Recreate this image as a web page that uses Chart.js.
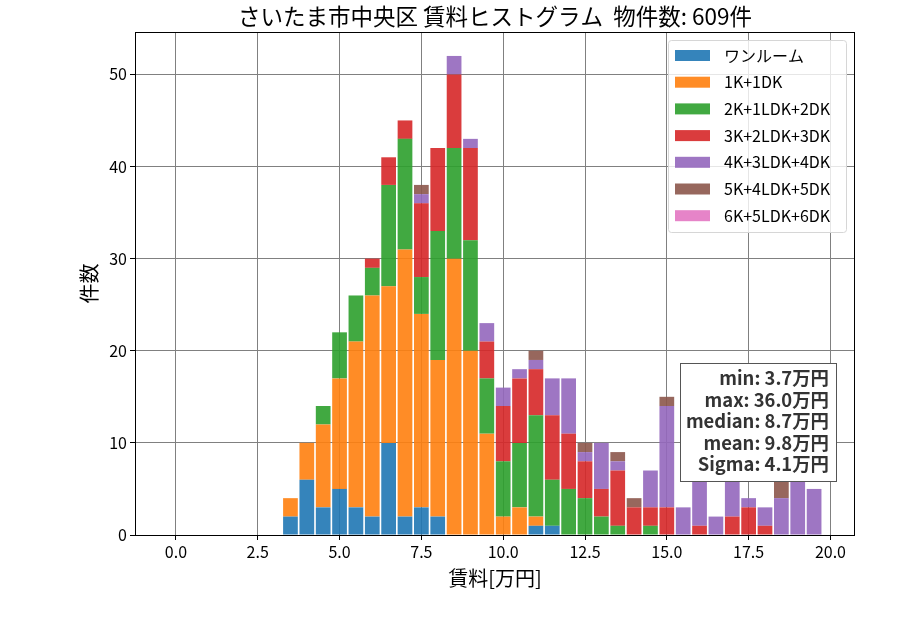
<!DOCTYPE html>
<html>
<head>
<meta charset="utf-8">
<script src="https://cdn.jsdelivr.net/npm/chart.js@4"></script>
<style>
  html, body { margin: 0; padding: 0; background: #fff; }
  canvas { display: block; }
</style>
</head>
<body>
<canvas id="c" width="900" height="630"></canvas>
<script>
// bin centres (万円), bin width 0.5
const centers = [3.5, 4.0, 4.5, 5.0, 5.5, 6.0, 6.5, 7.0, 7.5, 8.0, 8.5, 9.0, 9.5, 10.0, 10.5, 11.0,
  11.5, 12.0, 12.5, 13.0, 13.5, 14.0, 14.5, 15.0, 15.5, 16.0, 16.5, 17.0, 17.5, 18.0, 18.5, 19.0, 19.5];

const oneRoom = [2, 6, 3, 5, 3, 2, 10, 2, 3, 2, 0, 0, 0, 0, 0, 1, 1, 0, 0, 0, 0, 0, 0, 0, 0, 0, 0, 0, 0, 0, 0, 0, 0];
const k1 = [2, 4, 9, 12, 18, 24, 17, 29, 21, 17, 30, 20, 11, 2, 3, 1, 0, 0, 0, 0, 0, 0, 0, 0, 0, 0, 0, 0, 0, 0, 0, 0, 0];
const k2 = [0, 0, 2, 5, 5, 3, 11, 12, 4, 14, 12, 12, 6, 6, 7, 11, 5, 5, 4, 2, 1, 0, 1, 0, 0, 0, 0, 0, 0, 0, 0, 0, 0];
const k3 = [0, 0, 0, 0, 0, 1, 3, 2, 8, 9, 8, 10, 4, 6, 7, 5, 7, 6, 4, 3, 6, 3, 2, 3, 0, 1, 0, 2, 3, 1, 0, 0, 0];
const k4 = [0, 0, 0, 0, 0, 0, 0, 0, 1, 0, 2, 1, 2, 2, 1, 1, 4, 6, 1, 5, 1, 0, 4, 11, 3, 7, 2, 5, 1, 2, 4, 7, 5];
const k5 = [0, 0, 0, 0, 0, 0, 0, 0, 1, 0, 0, 0, 0, 0, 0, 1, 0, 0, 1, 0, 1, 1, 0, 1, 0, 0, 0, 0, 0, 0, 2, 0, 0];
const k6 = [0, 0, 0, 0, 0, 0, 0, 0, 0, 0, 0, 0, 0, 0, 0, 0, 0, 0, 0, 0, 0, 0, 0, 0, 0, 0, 0, 0, 0, 0, 0, 0, 0];

const seriesNames = ["ワンルーム", "1K+1DK", "2K+1LDK+2DK", "3K+2LDK+3DK", "4K+3LDK+4DK", "5K+4LDK+5DK", "6K+5LDK+6DK"];
const seriesColors = ["rgba(31,119,180,0.9)", "rgba(255,127,14,0.9)", "rgba(44,160,44,0.9)", "rgba(214,39,40,0.9)",
  "rgba(148,103,189,0.9)", "rgba(140,86,75,0.9)", "rgba(227,119,194,0.9)"];
const seriesValues = [oneRoom, k1, k2, k3, k4, k5, k6];

const xTicks = [0, 2.5, 5, 7.5, 10, 12.5, 15, 17.5, 20];
const yTicks = [0, 10, 20, 30, 40, 50];

const titleText = "さいたま市中央区 賃料ヒストグラム  物件数: 609件";
const statsLines = ["min: 3.7万円", "max: 36.0万円", "median: 8.7万円", "mean: 9.8万円", "Sigma: 4.1万円"];

const FONT = "'Noto Sans CJK JP', 'Noto Sans', sans-serif";

const datasets = seriesNames.map((name, i) => ({
  label: name,
  data: centers.map((c, j) => ({ x: c, y: seriesValues[i][j] })),
  backgroundColor: seriesColors[i],
  borderWidth: 0,
  barPercentage: 0.9,
  categoryPercentage: 1.0,
}));

// title, axis labels, legend, stats box and frame
const decor = {
  id: "decor",
  afterDraw(chart) {
    const ctx = chart.ctx;
    const a = chart.chartArea;
    const cx = (a.left + a.right) / 2;
    ctx.save();

    // frame
    ctx.strokeStyle = "#000";
    ctx.lineWidth = 1;
    ctx.strokeRect(a.left + 0.5, a.top + 0.5, a.right - a.left - 1, a.bottom - a.top);

    ctx.fillStyle = "#000";
    ctx.textAlign = "center";
    ctx.textBaseline = "middle";
    ctx.font = "22.5px " + FONT;
    ctx.fillText(titleText, cx, 16);

    ctx.font = "20px " + FONT;
    ctx.fillText("賃料[万円]", cx, 578);
    ctx.save();
    ctx.translate(89, (a.top + a.bottom) / 2);
    ctx.rotate(-Math.PI / 2);
    ctx.fillText("件数", 0, 0);
    ctx.restore();

    // legend
    ctx.beginPath();
    ctx.roundRect(668.5, 40.5, 178, 192, 3);
    ctx.fillStyle = "rgba(255,255,255,0.8)";
    ctx.fill();
    ctx.strokeStyle = "#d6d6d6";
    ctx.stroke();
    ctx.font = "16px " + FONT;
    ctx.textAlign = "left";
    seriesNames.forEach((name, i) => {
      const y = 55.5 + i * 26.7;
      ctx.fillStyle = seriesColors[i];
      ctx.fillRect(675, y - 5.5, 35, 11);
      ctx.fillStyle = "#000";
      ctx.fillText(name, 724, y);
    });

    // stats box
    ctx.fillStyle = "#fff";
    ctx.fillRect(680.5, 363.5, 156, 118);
    ctx.strokeStyle = "#555";
    ctx.strokeRect(680.5, 363.5, 156, 118);
    ctx.fillStyle = "#333";
    ctx.font = "bold 18.4px " + FONT;
    ctx.textAlign = "right";
    statsLines.forEach((s, i) => ctx.fillText(s, 829, 378.5 + i * 21.4));

    ctx.restore();
  }
};

new Chart(document.getElementById("c"), {
  type: "bar",
  data: { datasets },
  options: {
    responsive: false,
    animation: false,
    devicePixelRatio: 1,
    layout: { padding: { top: 32, right: 45, left: 0, bottom: 0 } },
    plugins: { legend: { display: false }, title: { display: false }, tooltip: { enabled: false } },
    scales: {
      x: {
        type: "linear",
        stacked: true,
        offset: false,
        min: -1.25,
        max: 20.75,
        z: 1,
        afterFit: (s) => { s.height = 95; },
        afterBuildTicks: (s) => { s.ticks = xTicks.map(v => ({ value: v })); },
        ticks: {
          callback: (v) => Number(v).toFixed(1),
          font: { family: FONT, size: 16 },
          color: "#000",
          padding: 2,
          maxRotation: 0,
        },
        grid: { offset: false, color: "#808080", lineWidth: 1, tickColor: "#000", tickLength: 5 },
        border: { display: false },
      },
      y: {
        stacked: true,
        min: 0,
        max: 54.6,
        z: 1,
        afterFit: (s) => { s.width = 135; },
        afterBuildTicks: (s) => { s.ticks = yTicks.map(v => ({ value: v })); },
        ticks: {
          font: { family: FONT, size: 16 },
          color: "#000",
          padding: 3,
        },
        grid: { color: "#808080", lineWidth: 1, tickColor: "#000", tickLength: 5 },
        border: { display: false },
      }
    }
  },
  plugins: [decor]
});
</script>
</body>
</html>
